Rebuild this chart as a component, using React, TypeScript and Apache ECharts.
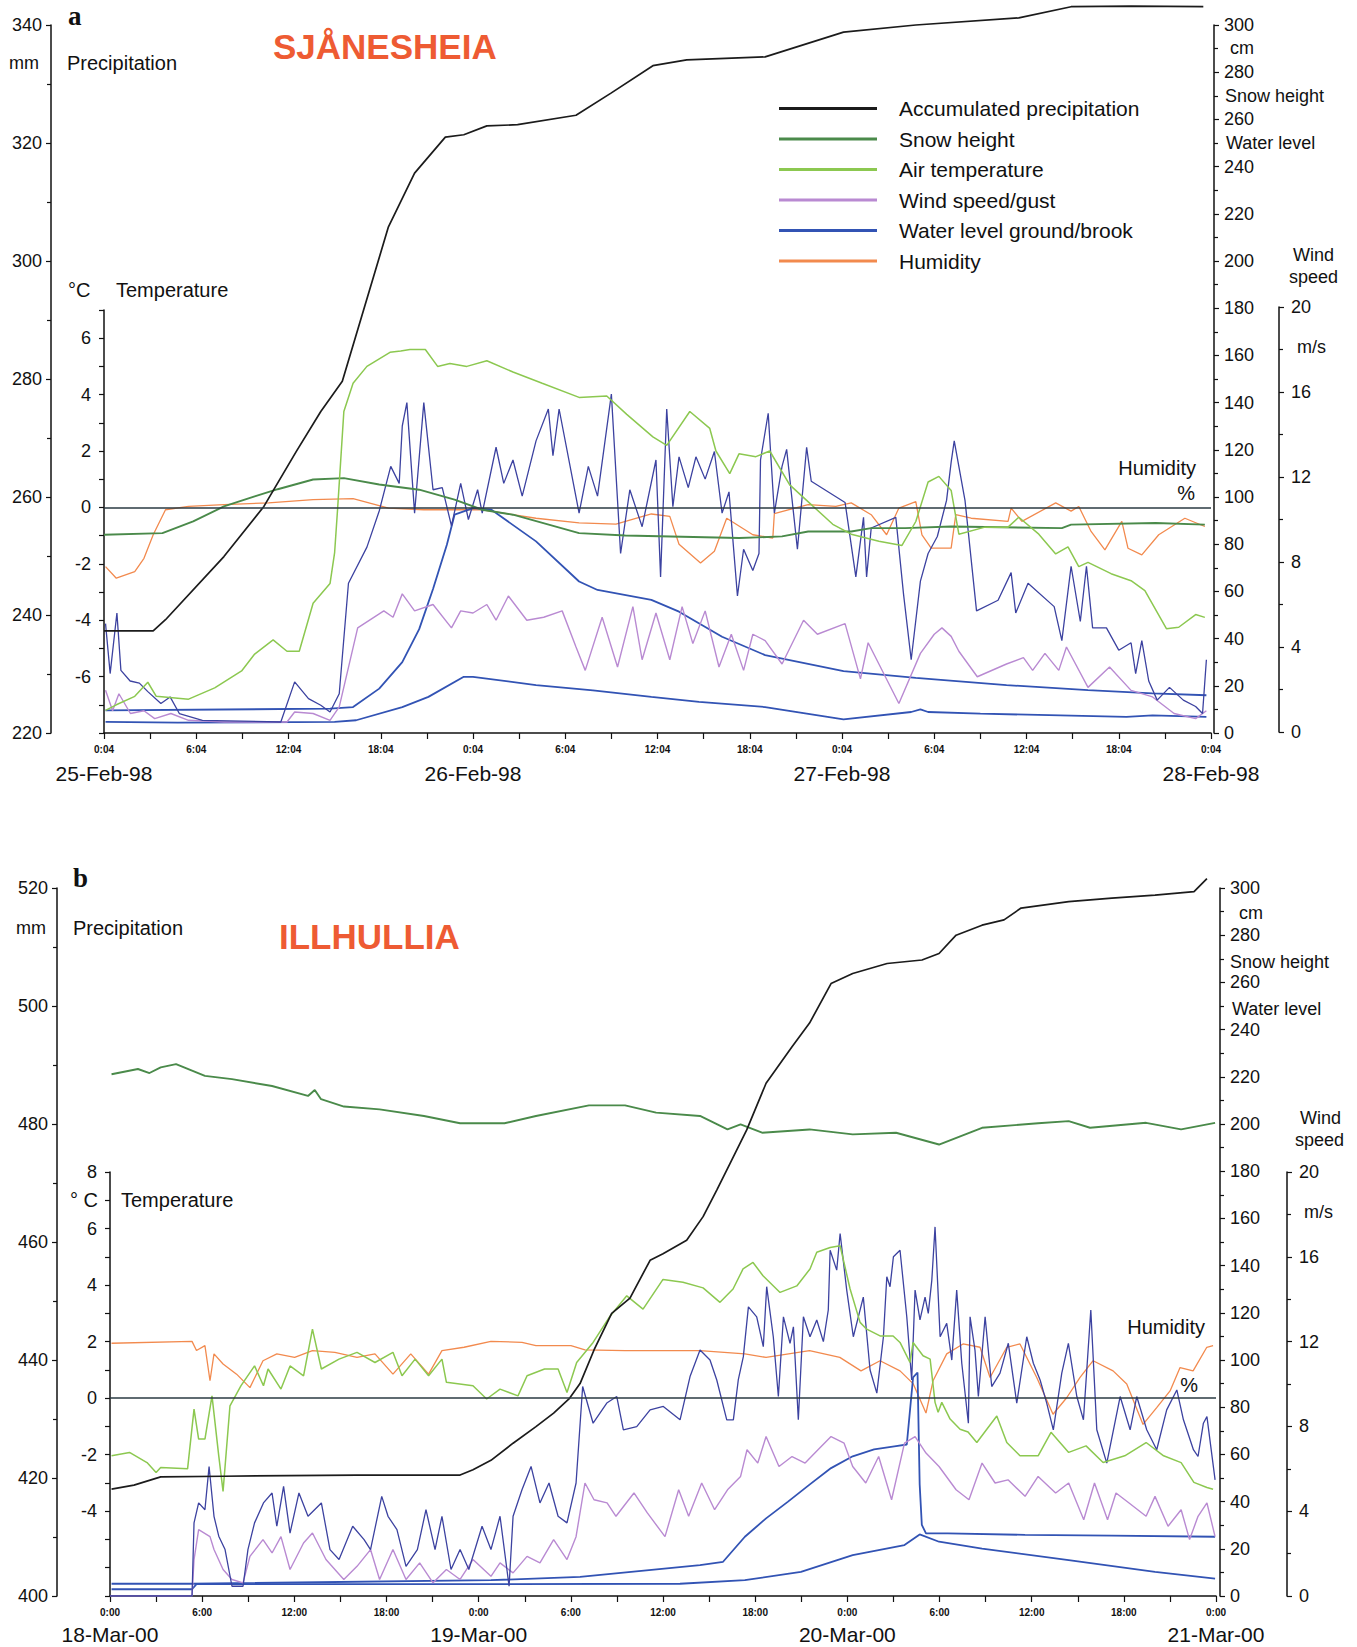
import React, { useEffect, useRef } from 'react';
import * as echarts from 'echarts';

const FONT = '"Liberation Sans", Arial, sans-serif';

// ---------- Panel a: SJÅNESHEIA, hours after 25-Feb-98 0:04 ----------
const ticksA = ['0:04', '6:04', '12:04', '18:04', '0:04', '6:04', '12:04', '18:04', '0:04', '6:04', '12:04', '18:04', '0:04'];
const daysA = ['25-Feb-98', '26-Feb-98', '27-Feb-98', '28-Feb-98'];
const tempLabelsA = [-6, -4, -2, 0, 2, 4, 6];

const aPrecip = [[0, 237.3], [3.2, 237.3], [4.0, 239.2], [7.8, 249.9], [10.4, 258.4], [12.5, 267.7], [14.1, 274.5], [15.5, 279.6], [18.5, 305.8], [20.2, 314.9], [22.2, 321], [23.4, 321.4], [24.9, 322.9], [26.9, 323.1], [30.7, 324.7], [33.0, 328.5], [35.7, 333.1], [37.9, 334.1], [43.0, 334.6], [48.1, 338.8], [52.8, 340], [59.5, 341.2], [62.9, 343.1], [66.8, 343.2], [71.5, 343.1]];
const aSnow = [[0, 84], [3.8, 84.7], [5.8, 89.7], [7.8, 96], [9.8, 100.3], [11.3, 103.3], [13.6, 107.4], [15.6, 108], [17.9, 105.3], [20.5, 103.1], [22.8, 98.9], [24.6, 94.6], [26.6, 92.5], [30.9, 84.7], [33.9, 83.7], [41.3, 82.6], [44.1, 83.3], [45.8, 85.4], [48.6, 85.4], [49.9, 86.8], [52.1, 86.8], [55.1, 87.5], [62.3, 86.8], [62.9, 88.3], [68.4, 89], [71.6, 88.3]];
const aTemp = [[0.1, -7.2], [0.8, -7.0], [2.0, -6.7], [2.85, -6.2], [3.4, -6.7], [5.5, -6.8], [7.2, -6.4], [8.95, -5.8], [9.8, -5.2], [11.0, -4.7], [11.9, -5.1], [12.7, -5.1], [13.6, -3.4], [14.7, -2.7], [15.0, -1.6], [15.2, 0], [15.6, 3.4], [16.2, 4.4], [17.1, 5.0], [18.6, 5.5], [19.3, 5.55], [19.9, 5.6], [20.9, 5.6], [21.7, 5.0], [22.5, 5.1], [23.6, 5.0], [24.9, 5.2], [26.6, 4.8], [28.5, 4.4], [30.9, 3.9], [32.7, 3.95], [34.0, 3.3], [35.7, 2.5], [36.6, 2.2], [38.1, 3.4], [39.4, 2.8], [39.8, 2.0], [40.7, 1.2], [41.3, 1.9], [42.4, 1.8], [43.3, 2.0], [44.6, 0.8], [45.7, 0.25], [47.4, -0.6], [48.6, -0.95], [50.4, -1.2], [51.9, -1.35], [52.8, -0.5], [53.6, 0.9], [54.3, 1.1], [55.1, 0.6], [55.6, -0.95], [57.3, -0.7], [58.8, -0.7], [59.5, -0.35], [60.8, -0.95], [61.9, -1.65], [62.7, -1.4], [63.4, -2.1], [64.0, -1.95], [65.5, -2.35], [66.8, -2.6], [67.7, -2.95], [69.1, -4.3], [69.9, -4.25], [71.0, -3.8], [71.6, -3.9]];
const aHumid = [[0.1, 70.5], [0.8, 65.6], [2.0, 68.4], [2.6, 74], [3.2, 84], [4.0, 94.6], [5.5, 96], [7.8, 96.8], [10.7, 97.5], [13.6, 98.9], [16.2, 99.3], [18.5, 95.3], [20.8, 94.6], [24.6, 94.6], [28.1, 91], [30.9, 89], [33.3, 88.5], [35.6, 92.8], [36.8, 91.8], [37.4, 80], [38.8, 72], [39.7, 77], [40.5, 91], [42.2, 84], [43.5, 82.6], [43.6, 93], [45.8, 96.8], [47.6, 96], [48.6, 97.5], [49.9, 92.5], [50.9, 84], [51.7, 95.3], [52.8, 98], [53.2, 84], [53.8, 78.3], [55.1, 78.3], [55.4, 92.5], [56.4, 91], [58.8, 89.7], [59.0, 95.3], [59.7, 89.7], [61.9, 97.5], [62.9, 94], [63.4, 96], [64.2, 85.4], [65.1, 77.6], [66.2, 89.7], [66.6, 78.3], [67.5, 75.5], [68.6, 84], [70.3, 91], [71.6, 87.5]];
const aWater1 = [[0.1, 9.6], [14.7, 10.3], [16.2, 11], [17.9, 18.8], [19.4, 30], [20.5, 44], [21.4, 61], [22.3, 79.8], [22.8, 92.5], [24.0, 95.3], [25.2, 94.6], [28.1, 81.2], [30.9, 64.2], [32.1, 60.6], [35.6, 56.4], [37.4, 51.4], [40.2, 40.8], [43.0, 33], [48.1, 26.2], [52.8, 23.4], [58.7, 20.3], [64.0, 18.2], [68.2, 16.8], [71.7, 16]];
const aWater2 = [[0.1, 4.7], [4.8, 4.4], [15.0, 4.7], [16.4, 5.4], [19.4, 11], [21.1, 15.3], [23.4, 23.8], [24.0, 23.8], [28.1, 20.3], [31.8, 18.1], [35.6, 15.3], [38.7, 13.2], [43.0, 11], [48.1, 5.8], [52.5, 8.9], [53.1, 10], [53.6, 8.9], [57.0, 8.2], [66.5, 6.8], [68.2, 7.5], [71.7, 6.8]];
const aWind = [[0.1, 1.96], [0.56, 1.0], [0.97, 1.8], [1.72, 0.87], [2.6, 1.0], [3.3, 0.63], [4.35, 0.87], [5.5, 0.55], [7.8, 0.47], [11.9, 0.47], [12.4, 0.94], [13.6, 0.87], [14.7, 0.55], [15.3, 1.18], [16.5, 4.9], [18.2, 5.7], [18.8, 5.4], [19.4, 6.5], [20.2, 5.7], [21.4, 6.0], [22.6, 4.9], [23.2, 5.7], [24.0, 5.6], [24.9, 6.0], [25.5, 5.26], [26.3, 6.4], [27.5, 5.26], [28.6, 5.4], [29.8, 5.7], [30.7, 4.0], [31.3, 2.9], [32.4, 5.4], [33.4, 3.06], [34.4, 5.9], [35.0, 3.4], [35.9, 5.6], [36.8, 3.4], [37.6, 5.9], [38.3, 4.16], [39.1, 5.7], [40.0, 3.06], [40.8, 4.6], [41.6, 2.9], [42.2, 4.6], [43.0, 4.3], [44.1, 3.2], [45.5, 5.26], [46.4, 4.6], [48.2, 5.1], [49.2, 2.5], [49.7, 4.2], [51.7, 1.34], [53.1, 3.7], [54.0, 4.6], [54.5, 4.9], [55.1, 4.5], [55.6, 3.8], [56.8, 2.6], [58.7, 3.2], [59.8, 3.5], [60.4, 2.9], [61.2, 3.7], [62.1, 2.9], [62.6, 4.0], [64.0, 2.1], [65.4, 3.06], [66.8, 1.96], [68.2, 1.65], [69.6, 0.87], [71.0, 0.63], [71.7, 1.0]];
const aGust = [[0.1, 5.1], [0.4, 2.75], [0.84, 5.6], [1.1, 2.9], [1.7, 2.4], [2.3, 2.3], [2.85, 1.9], [3.7, 1.34], [4.3, 1.65], [4.9, 0.87], [6.4, 0.55], [11.5, 0.47], [12.4, 2.36], [13.3, 1.57], [14.1, 1.26], [14.7, 0.94], [15.3, 1.8], [15.9, 7.0], [17.1, 8.7], [17.9, 10.4], [18.65, 12.5], [19.2, 11.7], [19.4, 14.4], [19.7, 15.5], [20.2, 10.3], [20.8, 15.5], [21.4, 11.4], [22.0, 11.5], [22.6, 9.7], [23.2, 11.7], [23.7, 10.0], [24.3, 11.4], [24.6, 10.3], [25.5, 13.4], [26.0, 11.7], [26.6, 12.8], [27.2, 11.1], [28.1, 13.7], [28.9, 15.2], [29.2, 13.0], [29.6, 15.2], [30.9, 10.3], [31.5, 12.5], [32.1, 11.1], [33.0, 15.9], [33.6, 8.4], [34.2, 11.4], [35.0, 9.66], [35.9, 12.8], [36.2, 7.3], [36.6, 15.2], [37.0, 10.6], [37.4, 12.95], [38.0, 11.5], [38.5, 12.95], [39.1, 11.9], [39.7, 13.2], [40.2, 10.3], [40.65, 11.3], [41.2, 6.4], [41.6, 8.6], [42.2, 7.6], [42.6, 8.4], [42.7, 12.8], [43.2, 15.0], [43.6, 10.3], [44.1, 12.5], [44.4, 13.3], [45.1, 8.6], [45.7, 13.4], [46.0, 11.8], [48.2, 10.8], [48.9, 7.3], [49.4, 10.1], [49.6, 7.3], [49.9, 9.6], [51.5, 10.1], [52.0, 6.5], [52.5, 3.4], [53.1, 7.1], [53.6, 8.4], [54.2, 9.2], [54.8, 10.9], [55.1, 12.7], [55.3, 13.7], [56.0, 10.9], [56.75, 5.7], [58.15, 6.2], [59.0, 7.5], [59.3, 5.6], [60.1, 7.0], [61.8, 5.9], [62.3, 4.3], [62.9, 7.8], [63.5, 5.2], [63.9, 7.8], [64.3, 4.9], [65.2, 4.9], [66.0, 3.85], [66.8, 4.2], [67.1, 2.75], [67.5, 4.3], [67.95, 2.4], [68.5, 1.5], [69.3, 2.1], [70.2, 1.5], [71.0, 1.2], [71.45, 0.87], [71.7, 3.4]];

// ---------- Panel b: ILLHULLIA, hours after 18-Mar-00 0:00 ----------
const ticksB = ['0:00', '6:00', '12:00', '18:00', '0:00', '6:00', '12:00', '18:00', '0:00', '6:00', '12:00', '18:00', '0:00'];
const daysB = ['18-Mar-00', '19-Mar-00', '20-Mar-00', '21-Mar-00'];
const tempLabelsB = [-4, -2, 0, 2, 4, 6, 8];

const bPrecip = [[0.1, 418.1], [1.56, 418.8], [3.3, 420.2], [7.36, 420.3], [16.08, 420.5], [22.79, 420.5], [23.63, 421.4], [24.8, 423], [26.24, 425.9], [27.73, 428.7], [28.88, 431], [29.88, 433.4], [30.6, 436], [31.51, 441.7], [32.66, 447.9], [33.85, 450.5], [35.16, 456.9], [36.0, 458], [37.54, 460.3], [38.61, 464.3], [39.5, 468.8], [40.36, 473.3], [41.45, 479], [42.71, 486.9], [44.4, 493.1], [45.54, 497.1], [46.94, 503.8], [48.35, 505.5], [50.59, 507.2], [52.86, 507.8], [53.97, 508.9], [55.08, 512], [56.77, 513.7], [58.2, 514.6], [59.31, 516.6], [62.41, 517.7], [65.22, 518.3], [68.03, 518.8], [70.57, 519.4], [71.41, 521.6]];
const bSnow = [[0.1, 221.1], [1.82, 223.3], [2.57, 221.6], [3.3, 224], [4.3, 225.4], [6.18, 220.4], [7.94, 219], [10.55, 216.1], [12.89, 211.9], [13.33, 214.4], [13.74, 210.5], [15.23, 207.4], [17.55, 206.2], [20.44, 203.4], [22.79, 200.3], [25.68, 200.3], [27.73, 203.4], [31.18, 207.9], [33.53, 207.9], [35.55, 204.8], [38.41, 203.4], [40.2, 197.7], [41.05, 199.8], [42.45, 196.3], [45.54, 197.7], [48.35, 195.6], [51.17, 196.3], [53.97, 191.3], [56.77, 198.4], [60.42, 200.3], [62.41, 201.2], [63.8, 198.4], [67.45, 200.5], [69.73, 197.7], [71.94, 200.5]];
const bTemp = [[0.1, -2.04], [1.27, -1.92], [2.41, -2.28], [3.0, -2.63], [3.3, -2.45], [5.05, -2.5], [5.47, -0.39], [5.77, -1.45], [6.18, -1.45], [6.64, 0.08], [7.08, -2.04], [7.36, -3.3], [7.81, -0.27], [8.53, 0.44], [9.41, 1.14], [9.99, 0.44], [10.29, 1.03], [11.13, 0.32], [11.72, 1.14], [12.6, 0.79], [13.18, 2.44], [13.76, 1.03], [14.91, 1.38], [16.08, 1.62], [17.25, 1.26], [18.42, 1.62], [19.01, 0.79], [19.86, 1.38], [20.74, 0.79], [21.61, 1.38], [21.9, 0.56], [23.63, 0.44], [24.52, -0.03], [25.39, 0.32], [26.56, 0.08], [27.15, 0.79], [28.29, 1.03], [29.17, 1.03], [29.75, 0.2], [30.38, 1.26], [31.45, 1.97], [32.55, 2.9], [33.64, 3.62], [34.7, 3.15], [36.0, 4.2], [37.3, 4.1], [38.61, 3.9], [39.71, 3.39], [40.56, 3.86], [41.21, 4.57], [41.86, 4.8], [42.51, 4.33], [43.62, 3.74], [44.71, 3.97], [45.57, 4.57], [46.01, 5.16], [46.88, 5.33], [47.53, 5.39], [48.18, 3.86], [48.83, 2.68], [49.26, 2.44], [50.13, 2.2], [50.98, 2.2], [51.43, 1.97], [52.08, 1.26], [52.28, 1.97], [52.93, 1.5], [53.39, 1.38], [53.71, -0.15], [53.91, -0.5], [54.15, -0.15], [54.69, -0.74], [55.34, -1.1], [55.86, -1.2], [56.43, -1.57], [57.08, -1.1], [57.73, -0.63], [58.38, -1.57], [59.24, -2.04], [60.42, -2.04], [61.26, -1.21], [62.41, -1.92], [63.54, -1.69], [64.65, -2.28], [66.06, -2.04], [67.45, -1.57], [68.59, -2.04], [69.73, -2.28], [70.56, -2.98], [71.41, -3.16], [71.81, -3.22]];
const bHumid = [[0.1, 107.1], [5.34, 107.9], [5.63, 104], [6.18, 106.1], [6.51, 91.2], [6.77, 102.6], [7.36, 98.3], [8.24, 94], [9.11, 88.3], [9.96, 99.7], [10.86, 102.6], [12.02, 101.1], [13.18, 104], [14.64, 103.2], [16.08, 101.1], [17.25, 102.6], [18.42, 94], [19.58, 102.6], [20.74, 94], [21.61, 104], [23.05, 105.4], [24.8, 107.9], [26.82, 107.5], [27.73, 106.1], [30.01, 106.1], [30.92, 104.3], [33.53, 104], [38.41, 104], [41.33, 102.6], [42.71, 101.1], [45.54, 104], [47.51, 101.1], [48.89, 95.4], [50.13, 99.7], [51.43, 95.4], [52.28, 90], [53.12, 77.5], [53.58, 91.2], [54.47, 102.6], [55.53, 106.8], [56.64, 105.4], [57.29, 92.6], [58.38, 105.4], [59.24, 106.8], [60.33, 92.6], [61.39, 77], [62.28, 84], [63.15, 92.6], [64.0, 99.7], [65.3, 95.4], [66.19, 89.8], [67.25, 72.7], [68.14, 79.8], [69.01, 86.9], [69.66, 96.8], [70.51, 95.4], [71.4, 105.4], [71.81, 106.1]];
const bWater1 = [[0.1, 5.2], [5.34, 5.2], [24.8, 6.7], [30.6, 8.1], [38.41, 13.1], [39.91, 14.5], [41.33, 25.1], [42.71, 32.9], [44.14, 40], [45.54, 47.2], [46.94, 54.2], [48.35, 59.2], [49.74, 62.1], [51.17, 63.5], [51.87, 64.2], [52.28, 92.6], [52.57, 94.7], [52.71, 47.2], [52.85, 30.1], [53.12, 26.5], [54.54, 26.5], [59.57, 25.9], [65.22, 25.6], [71.94, 25.1]];
const bWater2 = [[0.1, 2.85], [5.34, 2.85], [5.63, 5.0], [24.8, 5.0], [37.11, 5.2], [41.33, 6.7], [44.98, 10.2], [48.35, 17.3], [51.72, 21.6], [52.71, 26.1], [53.97, 23], [56.77, 20.1], [62.41, 15.2], [68.03, 10.2], [71.94, 7.4]];
const bWind = [[0, 0], [5.34, 0], [5.47, 1.72], [5.77, 3.13], [6.51, 2.8], [6.77, 2.19], [7.36, 1.25], [7.94, 0.78], [8.66, 0.62], [9.11, 1.87], [9.96, 2.66], [10.55, 2.03], [11.13, 2.8], [11.72, 1.25], [12.6, 2.5], [13.18, 2.97], [14.06, 1.72], [15.22, 0.78], [16.08, 1.4], [16.96, 2.19], [17.55, 0.78], [18.42, 2.19], [19.27, 0.78], [20.16, 1.56], [21.03, 0.62], [21.9, 1.25], [22.79, 0.78], [23.63, 1.72], [24.8, 0.93], [25.39, 1.56], [26.24, 1.09], [27.15, 1.87], [27.99, 1.56], [28.88, 2.66], [29.75, 1.72], [30.34, 2.8], [30.92, 5.33], [31.51, 4.54], [32.36, 4.39], [32.94, 3.76], [34.11, 4.86], [34.98, 3.92], [36.13, 2.8], [37.02, 5.01], [37.67, 3.76], [38.52, 5.33], [39.36, 4.07], [40.2, 5.01], [41.05, 5.64], [41.47, 6.9], [42.17, 6.27], [42.71, 7.52], [43.55, 6.11], [44.4, 6.58], [45.25, 6.27], [46.09, 6.9], [46.94, 7.52], [47.79, 7.21], [48.35, 6.11], [49.2, 5.33], [50.04, 6.58], [50.88, 4.54], [51.72, 7.21], [52.41, 7.52], [53.12, 6.74], [53.97, 6.11], [55.08, 5.01], [55.92, 4.54], [56.77, 6.27], [57.62, 5.33], [58.46, 5.48], [59.57, 4.7], [60.42, 5.64], [61.56, 4.86], [62.41, 5.33], [63.39, 3.6], [64.09, 5.33], [64.94, 3.6], [65.49, 4.86], [66.34, 4.39], [67.45, 3.76], [68.03, 4.7], [68.88, 3.29], [69.73, 4.07], [70.28, 2.66], [70.83, 3.76], [71.41, 4.39], [71.94, 2.8]];
const bGust = [[0, 0], [5.34, 0], [5.47, 3.45], [5.77, 4.39], [6.18, 4.07], [6.45, 6.11], [6.77, 3.76], [7.08, 2.82], [7.49, 2.19], [7.94, 0.46], [8.66, 0.46], [8.98, 2.19], [9.41, 3.45], [9.99, 4.39], [10.55, 4.86], [10.86, 3.29], [11.3, 5.17], [11.72, 2.97], [12.3, 4.86], [12.89, 3.76], [13.76, 4.39], [14.32, 2.19], [14.91, 1.72], [15.8, 3.29], [16.54, 2.66], [16.96, 2.19], [17.69, 4.7], [18.1, 3.76], [18.68, 3.13], [19.27, 1.4], [20.01, 2.19], [20.57, 4.07], [21.16, 2.19], [21.61, 3.76], [22.2, 1.25], [22.79, 2.19], [23.36, 1.25], [24.22, 3.29], [24.8, 2.19], [25.39, 3.76], [25.98, 0.46], [26.24, 3.76], [26.82, 5.01], [27.41, 6.11], [27.99, 4.39], [28.58, 5.33], [29.17, 3.76], [29.75, 3.45], [30.34, 5.33], [30.77, 9.88], [31.45, 8.15], [32.34, 9.1], [32.99, 9.41], [33.42, 7.84], [34.29, 7.99], [35.16, 8.78], [36.02, 8.94], [37.11, 8.31], [37.76, 10.35], [38.41, 11.6], [39.06, 11.13], [39.5, 10.19], [40.15, 8.31], [40.58, 8.31], [40.9, 10.19], [41.23, 11.29], [41.56, 13.64], [42.1, 13.17], [42.53, 11.76], [42.75, 14.59], [43.18, 12.23], [43.51, 9.41], [43.84, 13.17], [44.27, 11.92], [44.49, 12.7], [44.81, 8.31], [45.14, 13.17], [45.57, 12.23], [46.01, 13.02], [46.44, 12.0], [46.76, 13.49], [46.88, 16.31], [47.31, 15.37], [47.53, 17.1], [47.96, 14.43], [48.39, 12.23], [49.04, 14.1], [49.48, 10.66], [49.92, 9.57], [50.35, 12.23], [50.57, 15.06], [50.78, 14.59], [51.0, 16.0], [51.43, 16.31], [51.87, 13.17], [52.19, 10.19], [52.41, 14.43], [52.73, 13.02], [53.06, 14.1], [53.27, 13.33], [53.5, 14.9], [53.71, 17.41], [54.04, 12.23], [54.47, 12.86], [54.8, 11.13], [55.12, 14.43], [55.45, 10.98], [55.88, 8.15], [55.99, 13.17], [56.31, 11.6], [56.53, 9.41], [56.97, 13.17], [57.4, 9.88], [57.94, 10.51], [58.48, 11.92], [59.03, 9.1], [59.68, 12.23], [60.11, 10.98], [60.55, 10.19], [60.98, 9.1], [61.41, 7.84], [61.96, 10.51], [62.39, 11.92], [62.94, 9.41], [63.37, 8.31], [63.85, 13.49], [64.24, 7.84], [64.89, 6.27], [65.76, 9.41], [66.41, 7.84], [66.84, 9.41], [67.49, 7.84], [68.14, 6.9], [68.79, 8.78], [69.45, 9.72], [69.88, 8.31], [70.53, 6.9], [70.83, 6.58], [71.18, 8.15], [71.41, 8.46], [71.94, 5.48]];

const LEGEND_NAMES = ['Accumulated precipitation', 'Snow height', 'Air temperature', 'Wind speed/gust', 'Water level ground/brook', 'Humidity'];

const C = {
  precip: '#1b1b1b',
  snow: '#4a8a4a',
  temp: '#8cc850',
  wind: '#b98ad2',
  gust: '#3c42a0',
  water: '#3253b4',
  humid: '#f28a4e',
  axis: '#111111',
  zero: '#2a3a42',
  title: '#ee5b33',
};

function line(name: string, data: number[][], color: string, xi: number, yi: number, width: number, extra: any = {}) {
  return {
    type: 'line', name, data, xAxisIndex: xi, yAxisIndex: yi,
    showSymbol: false, symbol: 'none', color,
    lineStyle: { color, width }, itemStyle: { color },
    z: 3, silent: true, ...extra,
  };
}

function hiddenX(gridIndex: number) {
  return { gridIndex, type: 'value', min: 0, max: 72, show: false };
}

function shownX(gridIndex: number, labels: string[]) {
  return {
    gridIndex, type: 'value', min: 0, max: 72, interval: 6, position: 'bottom',
    axisLine: { show: true, onZero: false, lineStyle: { color: C.axis, width: 1.5 } },
    axisTick: { show: true, length: 6, lineStyle: { color: C.axis, width: 1.2 } },
    minorTick: { show: true, splitNumber: 2, length: 6, lineStyle: { color: C.axis, width: 1.2 } },
    axisLabel: { formatter: (v: number) => labels[Math.round(v / 6)] ?? '', fontSize: 10, fontWeight: 'bold', fontFamily: FONT, color: C.axis, margin: 11 },
    splitLine: { show: false },
  };
}

function dayX(gridIndex: number, labels: string[], margin: number) {
  return {
    gridIndex, type: 'value', min: 0, max: 72, interval: 24, position: 'bottom',
    axisLine: { show: false, onZero: false }, axisTick: { show: false },
    axisLabel: { formatter: (v: number) => labels[Math.round(v / 24)] ?? '', fontSize: 21, fontFamily: FONT, color: C.axis, margin },
    splitLine: { show: false },
  };
}

function yAx(gridIndex: number, position: string, offset: number, min: number, max: number, interval: number, minorSplit: number, margin: number, formatter?: (v: number) => string) {
  return {
    gridIndex, type: 'value', position, offset, min, max, interval,
    axisLine: { show: true, onZero: false, lineStyle: { color: C.axis, width: 1.5 } },
    axisTick: { show: true, length: 5, lineStyle: { color: C.axis, width: 1.2 } },
    minorTick: { show: minorSplit > 1, splitNumber: minorSplit, length: 4, lineStyle: { color: C.axis, width: 1.2 } },
    axisLabel: { fontSize: 18, fontFamily: FONT, color: C.axis, margin, ...(formatter ? { formatter } : {}) },
    splitLine: { show: false }, minorSplitLine: { show: false },
  };
}

function txt(text: string, x: number, y: number, size: number, opts: any = {}) {
  return {
    type: 'text', x, y, silent: true, z: 10,
    style: {
      text, fill: opts.fill || C.axis,
      font: `${opts.weight || 'normal'} ${size}px ${opts.family || FONT}`,
      textAlign: opts.align || 'left', textVerticalAlign: 'middle',
    },
  };
}

const zeroLine = {
  silent: true, symbol: ['none', 'none'], label: { show: false },
  lineStyle: { color: C.zero, width: 1.6, type: 'solid' },
  data: [{ yAxis: 0 }],
};

function buildOption() {
  const fmtA = (v: number) => (tempLabelsA.includes(v) ? String(v) : '');
  const fmtB = (v: number) => (tempLabelsB.includes(v) ? String(v) : '');
  return {
    animation: false,
    backgroundColor: '#ffffff',
    grid: [
      { left: 104, top: 25, width: 1107, height: 708 },
      { left: 104, top: 310, width: 1107, height: 423 },
      { left: 104, top: 307, width: 1107, height: 425 },
      { left: 110, top: 888, width: 1106, height: 708 },
      { left: 110, top: 1172, width: 1106, height: 424 },
    ],
    xAxis: [
      hiddenX(0),
      shownX(1, ticksA),
      hiddenX(2),
      hiddenX(3),
      shownX(4, ticksB),
      dayX(1, daysA, 30),
      dayX(4, daysB, 28),
    ],
    yAxis: [
      yAx(0, 'left', 53, 220, 340, 20, 2, 9),
      yAx(0, 'right', 3, 0, 300, 20, 2, 10),
      yAx(1, 'left', 0, -8, 7, 1, 0, 13, fmtA),
      yAx(2, 'right', 68, 0, 20, 4, 2, 12),
      yAx(3, 'left', 53, 400, 520, 20, 2, 9),
      yAx(3, 'right', 4, 0, 300, 20, 2, 10),
      yAx(4, 'left', 0, -7, 8, 1, 0, 13, fmtB),
      yAx(4, 'right', 71, 0, 20, 4, 2, 12),
    ],
    legend: {
      orient: 'vertical', left: 774, top: 93, itemWidth: 98, itemHeight: 3, itemGap: 9.5,
      icon: 'rect', selectedMode: false, data: LEGEND_NAMES,
      textStyle: { fontSize: 21, fontFamily: FONT, color: C.axis, padding: [0, 0, 0, 17] },
    },
    series: [
      // panel a
      line('Humidity', aHumid, C.humid, 0, 1, 1.3),
      line('Water level ground/brook', aWater1, C.water, 0, 1, 1.8),
      line('Water level ground/brook', aWater2, C.water, 0, 1, 1.8),
      line('Wind speed/gust', aWind, C.wind, 2, 3, 1.4),
      line('Wind gust', aGust, C.gust, 2, 3, 1.3),
      line('Snow height', aSnow, C.snow, 0, 1, 1.9),
      line('Air temperature', aTemp, C.temp, 1, 2, 1.5, { markLine: zeroLine }),
      line('Accumulated precipitation', aPrecip, C.precip, 0, 0, 1.7, { clip: false }),
      // panel b
      line('Humidity', bHumid, C.humid, 3, 5, 1.3),
      line('Water level ground/brook', bWater1, C.water, 3, 5, 1.8),
      line('Water level ground/brook', bWater2, C.water, 3, 5, 1.8),
      line('Wind speed/gust', bWind, C.wind, 4, 7, 1.4),
      line('Wind gust', bGust, C.gust, 4, 7, 1.3),
      line('Snow height', bSnow, C.snow, 3, 5, 1.9),
      line('Air temperature', bTemp, C.temp, 4, 6, 1.5, { markLine: zeroLine }),
      line('Accumulated precipitation', bPrecip, C.precip, 3, 4, 1.7, { clip: false }),
    ],
    graphic: [
      // panel a
      txt('a', 68, 16, 27, { weight: 'bold', family: '"Liberation Serif", "DejaVu Serif", serif' }),
      txt('mm', 9, 63, 18),
      txt('Precipitation', 67, 63, 20),
      txt('SJÅNESHEIA', 273, 46, 35, { weight: 'bold', fill: C.title }),
      txt('°C', 68, 290, 20),
      txt('Temperature', 116, 290, 20),
      txt('cm', 1230, 48, 18),
      txt('Snow height', 1225, 96, 18),
      txt('Water level', 1226, 143, 18),
      txt('Wind', 1293, 255, 18),
      txt('speed', 1289, 277, 18),
      txt('m/s', 1297, 347, 18),
      txt('Humidity', 1196, 468, 20, { align: 'right' }),
      txt('%', 1195, 493, 20, { align: 'right' }),
      // panel b
      txt('b', 73, 878, 27, { weight: 'bold', family: '"Liberation Serif", "DejaVu Serif", serif' }),
      txt('mm', 16, 928, 18),
      txt('Precipitation', 73, 928, 20),
      txt('ILLHULLIA', 279, 936, 35, { weight: 'bold', fill: C.title }),
      txt('° C', 70, 1200, 20),
      txt('Temperature', 121, 1200, 20),
      txt('cm', 1239, 913, 18),
      txt('Snow height', 1230, 962, 18),
      txt('Water level', 1232, 1009, 18),
      txt('Wind', 1300, 1118, 18),
      txt('speed', 1295, 1140, 18),
      txt('m/s', 1304, 1212, 18),
      txt('Humidity', 1205, 1327, 20, { align: 'right' }),
      txt('%', 1198, 1385, 20, { align: 'right' }),
    ],
  };
}

export default function App() {
  const ref = useRef<HTMLDivElement>(null);
  useEffect(() => {
    if (!ref.current) return;
    const chart = echarts.init(ref.current, null, { renderer: 'svg' });
    chart.setOption(buildOption() as any);
    return () => chart.dispose();
  }, []);
  return (
    <div
      ref={ref}
      style={{ position: 'absolute', left: 0, top: 0, width: 1357, height: 1647, background: '#ffffff' }}
    />
  );
}
